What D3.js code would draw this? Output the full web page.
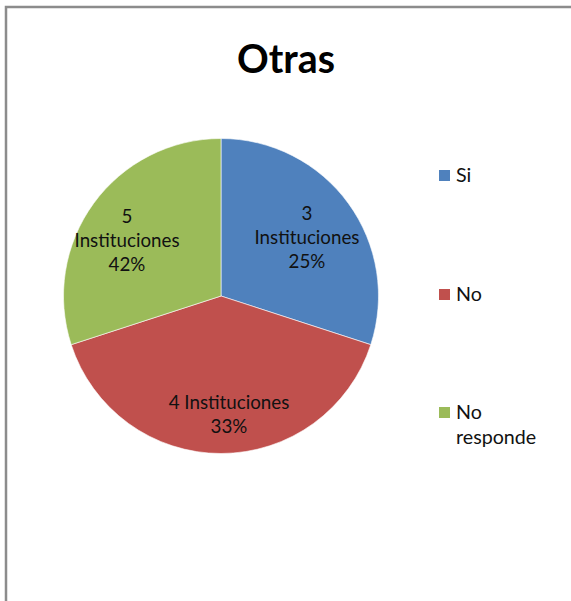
<!DOCTYPE html>
<html>
<head>
<meta charset="utf-8">
<script src="https://cdn.jsdelivr.net/npm/d3@7"></script>
<style>
  html, body { margin: 0; padding: 0; background: #fff; }
  svg { display: block; }
</style>
</head>
<body>
<svg id="chart" width="571" height="601"></svg>
<script>
// ---- data ----
const title = "Otras";
const categories = ["Si", "No", "No responde"];
const sliceValues = [3, 4, 3];              // slice sizes as drawn in the picture
const countLabels = ["3", "4", "5"];         // counts written in the data labels
const percentLabels = ["25%", "33%", "42%"]; // percentages written in the data labels
const colors = ["#4F81BD", "#C0504D", "#9BBB59"];

const svg = d3.select("#chart");
const FONT = "Lato, 'Open Sans', 'DejaVu Sans', sans-serif";

// frame
svg.append("path")
  .attr("d", "M6,601 V7 H571")
  .attr("fill", "none")
  .attr("stroke", "#8c8c8c")
  .attr("stroke-width", 2.5);

// title
const t = svg.append("text")
  .attr("x", 286).attr("y", 73)
  .attr("text-anchor", "middle")
  .attr("font-family", FONT)
  .attr("font-weight", "bold")
  .attr("font-size", 44)
  .attr("fill", "#000")
  .text(title);
{
  const w = t.node().getComputedTextLength();
  t.attr("font-size", 44 * 98 / w);
}

// pie
const cx = 221, cy = 296, r = 157.5;
const pie = d3.pie().sort(null).value(d => d.v);
const arcs = pie(sliceValues.map((v, i) => ({ v, i })));
const arc = d3.arc().innerRadius(0).outerRadius(r);
const g = svg.append("g").attr("transform", `translate(${cx},${cy})`);
g.selectAll("path.slice").data(arcs).enter().append("path")
  .attr("class", "slice")
  .attr("d", arc)
  .attr("fill", d => colors[d.data.i])
  .attr("stroke", "#fff")
  .attr("stroke-width", 0.6);

// determine label font size so "Instituciones" ≈ 105px
const probe = svg.append("text").attr("font-family", FONT).attr("font-size", 16).text("Instituciones");
const labelSize = 16 * 105 / probe.node().getComputedTextLength();
probe.remove();

// data labels (positions derived from arc centroids)
const labelArc = d3.arc().innerRadius(r * 0.62).outerRadius(r * 0.62);
const labelLines = [
  [countLabels[0], "Instituciones", percentLabels[0]],
  [countLabels[1] + " Instituciones", percentLabels[1]],
  [countLabels[2], "Instituciones", percentLabels[2]]
];
const labelOffsets = [[7, -1], [8, 21], [-15, 2]];
arcs.forEach((a, k) => {
  const c = labelArc.centroid(a);
  const lines = labelLines[k];
  const lh = 24;
  const x = c[0] + labelOffsets[k][0];
  const yc = c[1] + labelOffsets[k][1];
  const tx = g.append("text")
    .attr("text-anchor", "middle")
    .attr("font-family", FONT)
    .attr("font-size", labelSize)
    .attr("fill", "#111");
  lines.forEach((ln, j) => {
    tx.append("tspan")
      .attr("x", x)
      .attr("y", yc + (j - (lines.length - 1) / 2) * lh + labelSize * 0.35)
      .text(ln);
  });
});

// legend
const legendY = [176, 295, 413];
const legendSize = labelSize * 1.05;
const lg = svg.append("g");
categories.forEach((c, i) => {
  lg.append("rect")
    .attr("x", 439).attr("y", legendY[i] - 6)
    .attr("width", 11).attr("height", 11)
    .attr("fill", colors[i]);
  const words = c === "No responde" ? ["No", "responde"] : [c];
  const tx = lg.append("text")
    .attr("font-family", FONT)
    .attr("font-size", legendSize)
    .attr("fill", "#111");
  words.forEach((w, j) => {
    tx.append("tspan").attr("x", 456).attr("y", legendY[i] + 6 + j * 25).text(w);
  });
});
</script>
</body>
</html>
